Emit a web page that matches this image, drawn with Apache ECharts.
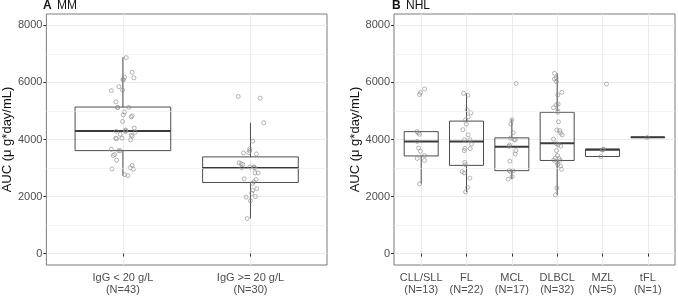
<!DOCTYPE html>
<html>
<head>
<meta charset="utf-8">
<script src="https://cdn.jsdelivr.net/npm/echarts@6/dist/echarts.min.js"></script>
<style>
  html, body { margin: 0; padding: 0; background: #fff; }
  #chart { width: 678px; height: 296px; }
</style>
</head>
<body>
<div id="chart"></div>
<script>
// 分类标签
const mmLabels = ['IgG < 20 g/L\n(N=43)', 'IgG >= 20 g/L\n(N=30)'];
const nhlLabels = ['CLL/SLL\n(N=13)', 'FL\n(N=22)', 'MCL\n(N=17)', 'DLBCL\n(N=32)', 'MZL\n(N=5)', 'tFL\n(N=1)'];
const yTicks = [0, 2000, 4000, 6000, 8000];
const yMinor = [1000, 3000, 5000, 7000];

// 箱线统计: [min, Q1, median, Q3, max]
const mmBoxes = [
  [2735, 3610, 4300, 5138, 6886],
  [1230, 2493, 3000, 3390, 4586]
];
const nhlBoxes = [
  [2448, 3424, 3931, 4276, 4276],
  [2161, 3093, 3931, 4645, 5620],
  [2610, 2908, 3748, 4058, 4720],
  [2058, 3265, 3872, 4955, 6320],
  [3403, 3403, 3643, 3666, 3666],
  [4075, 4075, 4075, 4075, 4075]
];

// 散点: [抖动偏移, AUC]
const mmLow = [
  [0.026, 6872], [0.073, 6355], [0.013, 6183], [0.086, 6162], [0, 6103], [0.004, 6095],
  [-0.031, 5851], [-0.091, 5713], [-0.003, 5735], [-0.055, 5321], [-0.042, 5127], [-0.04, 5120],
  [0.047, 5127], [0.013, 4966], [0.003, 4862], [0.073, 4828], [0.065, 4793], [-0.003, 4632],
  [0.089, 4403], [-0.052, 4286], [0.021, 4334], [0.02, 4300], [0.021, 4286], [0.096, 4252],
  [-0.021, 4183], [0.065, 4148], [0.073, 4114], [-0.057, 4045], [-0.05, 4030], [-0.008, 4045],
  [0.060, 3990], [-0.091, 3655], [-0.034, 3610], [-0.021, 3610], [-0.065, 3472], [-0.076, 3438],
  [-0.049, 3276], [0.073, 3093], [0.057, 3010], [0.083, 2955], [-0.086, 2966], [0.013, 2769],
  [0.039, 2735]
];
const mmHigh = [
  [-0.096, 5506], [0.076, 5448], [0.104, 4586], [0.018, 3941], [-0.005, 3678], [-0.005, 3610],
  [-0.055, 3528], [-0.013, 3540], [0.047, 3494], [-0.089, 3183], [-0.073, 3149], [-0.060, 3126],
  [-0.068, 3010], [0.026, 3034], [0.034, 3000], [0.03, 3020], [-0.005, 3034], [0.060, 2828],
  [0.036, 2828], [-0.049, 2621], [0.044, 2597], [0.026, 2517], [0.016, 2459], [0.049, 2276],
  [0.018, 2218], [0.010, 2115], [-0.034, 1977], [0.039, 2000], [0, 1851], [-0.026, 1230]
];
const cllSll = [
  [-0.037, 5576], [-0.015, 5645], [0.074, 5770], [-0.096, 4276], [-0.066, 4230], [-0.037, 4183],
  [-0.088, 3931], [-0.059, 3700], [-0.015, 3586], [0.074, 3438], [-0.088, 3334], [0.074, 3265],
  [-0.037, 2448]
];
const fl = [
  [-0.066, 5620], [0.029, 5550], [0.015, 5034], [0.096, 4931], [0.037, 4793], [-0.022, 4690],
  [-0.007, 4540], [-0.081, 4345], [0.037, 4160], [-0.044, 3990], [0.074, 3990], [0.110, 3840],
  [-0.037, 3690], [-0.051, 3610], [0.081, 3680], [-0.037, 3196], [-0.022, 3116], [-0.096, 2874],
  [-0.051, 2828], [0.074, 2644], [0.022, 2322], [-0.022, 2161]
];
const mcl = [
  [0.096, 5965], [0, 4690], [-0.022, 4540], [0.029, 4240], [0.074, 3990], [0.051, 4000],
  [-0.029, 4045], [-0.051, 3804], [-0.066, 3760], [0.088, 3610], [0.074, 3494], [-0.044, 3241],
  [-0.059, 2920], [0.029, 2908], [-0.029, 2874], [0.007, 2700], [-0.081, 2610]
];
const dlbcl = [
  [-0.059, 6320], [-0.022, 6160], [-0.059, 6120], [-0.015, 6030], [0.103, 5655], [0.015, 5560],
  [-0.015, 5218], [0.022, 5240], [-0.081, 5115], [0.015, 5000], [0.015, 4955], [0.029, 4620],
  [-0.007, 4333], [0.059, 4310], [0.074, 4230], [0.110, 4160], [-0.081, 4010], [-0.015, 3850],
  [0.022, 3815], [0.081, 3770], [-0.015, 3610], [0.007, 3438], [-0.037, 3350], [0.044, 3334],
  [-0.074, 3276], [0.066, 3265], [0, 3196], [0.015, 3116], [0.074, 3060], [0.096, 2955],
  [-0.007, 2300], [-0.037, 2058]
];
const mzl = [[0.088, 5943], [0.007, 3643], [0.022, 3660], [-0.007, 3630], [-0.037, 3403]];
const tfl = [[-0.015, 4070]];

const mmPoints = [mmLow, mmHigh];
const nhlPoints = [cllSll, fl, mcl, dlbcl, mzl, tfl];

const boxColor = '#4d4d4d';
const pointColor = '#8a8a8a';
const gridColor = '#ebebeb';
const font = 'Liberation Sans';

function renderBox(params, api) {
  const x = api.value(0);
  const lo = api.coord([x, api.value(1)]);
  const q1 = api.coord([x, api.value(2)]);
  const md = api.coord([x, api.value(3)]);
  const q3 = api.coord([x, api.value(4)]);
  const hi = api.coord([x, api.value(5)]);
  const half = api.size([0.75, 0])[0] / 2;
  const line = {stroke: boxColor, lineWidth: 1};
  return {
    type: 'group',
    children: [
      {type: 'line', shape: {x1: lo[0], y1: lo[1], x2: q1[0], y2: q1[1]}, style: line},
      {type: 'line', shape: {x1: q3[0], y1: q3[1], x2: hi[0], y2: hi[1]}, style: line},
      {type: 'rect', shape: {x: q3[0] - half, y: q3[1], width: half * 2, height: q1[1] - q3[1]},
        style: {fill: 'none', stroke: boxColor, lineWidth: 1}},
      {type: 'line', shape: {x1: md[0] - half, y1: md[1], x2: md[0] + half, y2: md[1]},
        style: {stroke: '#3a3a3a', lineWidth: 2}}
    ]
  };
}

function xAxisFor(idx, labels) {
  const vals = labels.map((_, i) => i + 1);
  return {
    gridIndex: idx, type: 'value', min: 0.4, max: labels.length + 0.6,
    axisLine: {show: false},
    axisTick: {show: true, customValues: vals, length: 3, lineStyle: {color: '#333'}},
    axisLabel: {customValues: vals, formatter: v => labels[Math.round(v) - 1],
      color: '#4d4d4d', fontSize: 11, lineHeight: 12, margin: 7, fontFamily: font},
    splitLine: {show: true, lineStyle: {color: gridColor, width: 1}}
  };
}

function yAxisFor(idx) {
  return {
    gridIndex: idx, type: 'value', min: -400, max: 8400,
    name: 'AUC (μ g*day/mL)', nameLocation: 'middle', nameGap: 25,
    nameTextStyle: {color: '#111', fontSize: 13, fontFamily: font},
    axisLine: {show: false},
    axisTick: {show: true, customValues: yTicks, length: 3, lineStyle: {color: '#333'}},
    axisLabel: {customValues: yTicks, formatter: v => String(v),
      color: '#4d4d4d', fontSize: 11, margin: 4, fontFamily: font},
    splitLine: {show: true, lineStyle: {color: gridColor, width: 1}}
  };
}

function panelSeries(idx, boxes, points) {
  return [{
    type: 'custom', xAxisIndex: idx, yAxisIndex: idx, renderItem: renderBox,
    encode: {x: 0, y: [1, 2, 3, 4, 5]},
    data: boxes.map((b, i) => [i + 1].concat(b)),
    z: 2,
    markLine: {
      silent: true, symbol: 'none', label: {show: false},
      lineStyle: {color: gridColor, width: 0.6, type: 'solid'},
      data: yMinor.map(v => ({yAxis: v}))
    }
  }, {
    type: 'scatter', xAxisIndex: idx, yAxisIndex: idx, symbol: 'circle', symbolSize: 4,
    itemStyle: {color: 'rgba(255,255,255,0)', borderColor: pointColor, borderWidth: 0.8},
    data: points.flatMap((grp, i) => grp.map(p => [i + 1 + p[0], p[1]])),
    z: 3, silent: true
  }];
}

function panelTitle(tag, text, left) {
  return {
    text: '{a|' + tag + '} ' + text, left: left, top: -5,
    textStyle: {fontSize: 12, fontWeight: 'normal', color: '#111', fontFamily: font,
      rich: {a: {fontWeight: 'bold', fontSize: 12, color: '#111', fontFamily: font, padding: [0, 2, 0, 0]}}}
  };
}

const chart = echarts.init(document.getElementById('chart'));
chart.setOption({
  animation: false,
  title: [panelTitle('A', 'MM', 38), panelTitle('B', 'NHL', 387)],
  grid: [
    {left: 45, top: 14, width: 282, height: 255, show: true, borderColor: '#7a7a7a', borderWidth: 1},
    {left: 394, top: 14, width: 281, height: 255, show: true, borderColor: '#7a7a7a', borderWidth: 1}
  ],
  xAxis: [xAxisFor(0, mmLabels), xAxisFor(1, nhlLabels)],
  yAxis: [yAxisFor(0), yAxisFor(1)],
  series: panelSeries(0, mmBoxes, mmPoints).concat(panelSeries(1, nhlBoxes, nhlPoints))
});
</script>
</body>
</html>
